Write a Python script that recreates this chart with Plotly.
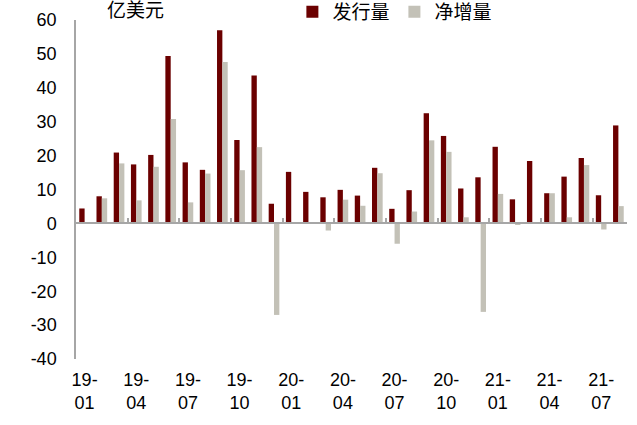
import plotly.graph_objects as go

# 月份（19-01 ~ 21-08）
months = ["19-01", "19-02", "19-03", "19-04", "19-05", "19-06", "19-07", "19-08",
          "19-09", "19-10", "19-11", "19-12", "20-01", "20-02", "20-03", "20-04",
          "20-05", "20-06", "20-07", "20-08", "20-09", "20-10", "20-11", "20-12",
          "21-01", "21-02", "21-03", "21-04", "21-05", "21-06", "21-07", "21-08"]

# 发行量（亿美元）
issuance = [4.4, 8.0, 20.9, 17.4, 20.2, 49.4, 18.0, 15.8,
            57.0, 24.6, 43.6, 5.8, 15.2, 9.3, 7.7, 9.9,
            8.2, 16.4, 4.3, 9.8, 32.5, 25.8, 10.3, 13.6,
            22.6, 7.1, 18.4, 8.9, 13.8, 19.3, 8.3, 28.9]

# 净增量（亿美元）
net_increase = [0.1, 7.4, 17.7, 6.8, 16.7, 30.8, 6.2, 14.7,
                47.6, 15.7, 22.5, -27.0, 0.1, 0.3, -2.1, 7.0,
                5.2, 14.8, -6.0, 3.5, 24.5, 21.1, 1.8, -26.1,
                8.7, -0.3, 0.1, 8.9, 1.8, 17.2, -1.8, 5.1]

y_ticks = [-40, -30, -20, -10, 0, 10, 20, 30, 40, 50, 60]
y_tick_text = [str(v) for v in y_ticks]  # 普通连字符作负号
tick_labels = [m.replace("-", "-<br>") for m in months]

FONT = "Liberation Sans, Arial, Noto Sans CJK SC"

fig = go.Figure()

fig.add_trace(go.Bar(
    x=months, y=issuance, name="发行量",
    marker=dict(color="#6B0000", line=dict(width=0)),
))
fig.add_trace(go.Bar(
    x=months, y=net_increase, name="净增量",
    marker=dict(color="#C3C1B7", line=dict(width=0)),
))
# 零轴上的刻度线（用第二条 x 轴画在 0 位置）
fig.add_trace(go.Scatter(
    x=months, y=[0] * len(months), xaxis="x2", mode="lines",
    line=dict(width=0), opacity=0, showlegend=False, hoverinfo="skip",
))

fig.update_layout(
    width=637, height=425,
    margin=dict(l=76, r=10, t=20, b=66, autoexpand=False),
    plot_bgcolor="white", paper_bgcolor="white",
    font=dict(family=FONT, size=18, color="#000000"),
    barmode="group", bargap=0.38, bargroupgap=0,
    showlegend=True,
    legend=dict(
        orientation="h", x=0.459, y=0.972, xref="container", yref="container",
        xanchor="left", yanchor="middle",
        font=dict(size=19), itemwidth=30, tracegroupgap=0,
        bgcolor="rgba(0,0,0,0)",
    ),
    xaxis=dict(
        type="category", categoryorder="array", categoryarray=months,
        range=[-0.5, len(months) - 0.5],
        tickmode="array", tickvals=months[::3], ticktext=tick_labels[::3],
        showline=False, showgrid=False, zeroline=False, ticks="",
        ticklabelstandoff=8,
    ),
    xaxis2=dict(
        type="category", categoryorder="array", categoryarray=months,
        range=[-0.5, len(months) - 0.5],
        overlaying="x", anchor="free", position=0.4,
        showline=True, linecolor="#A6A6A6", linewidth=1.5,
        ticks="inside", tickson="boundaries", ticklen=5, tickcolor="#A6A6A6",
        tickwidth=1.5, dtick=3, tick0=0,
        showticklabels=False, showgrid=False, zeroline=False,
    ),
    yaxis=dict(
        range=[-40, 60], tickmode="array", tickvals=y_ticks, ticktext=y_tick_text,
        showgrid=False, zeroline=False,
        showline=True, linecolor="#A6A6A6", linewidth=1.5,
        ticks="", ticklabelstandoff=14,
    ),
    annotations=[dict(
        text="亿美元", xref="paper", yref="paper", x=0.053, y=1.029,
        xanchor="left", yanchor="middle", showarrow=False,
        font=dict(size=19, family=FONT),
    )],
)

# 去掉页面 body 的默认外边距，使图表贴齐窗口左上角
fig.write_html("out.html", config={"displayModeBar": False},
               post_script="document.body.style.margin='0';")
